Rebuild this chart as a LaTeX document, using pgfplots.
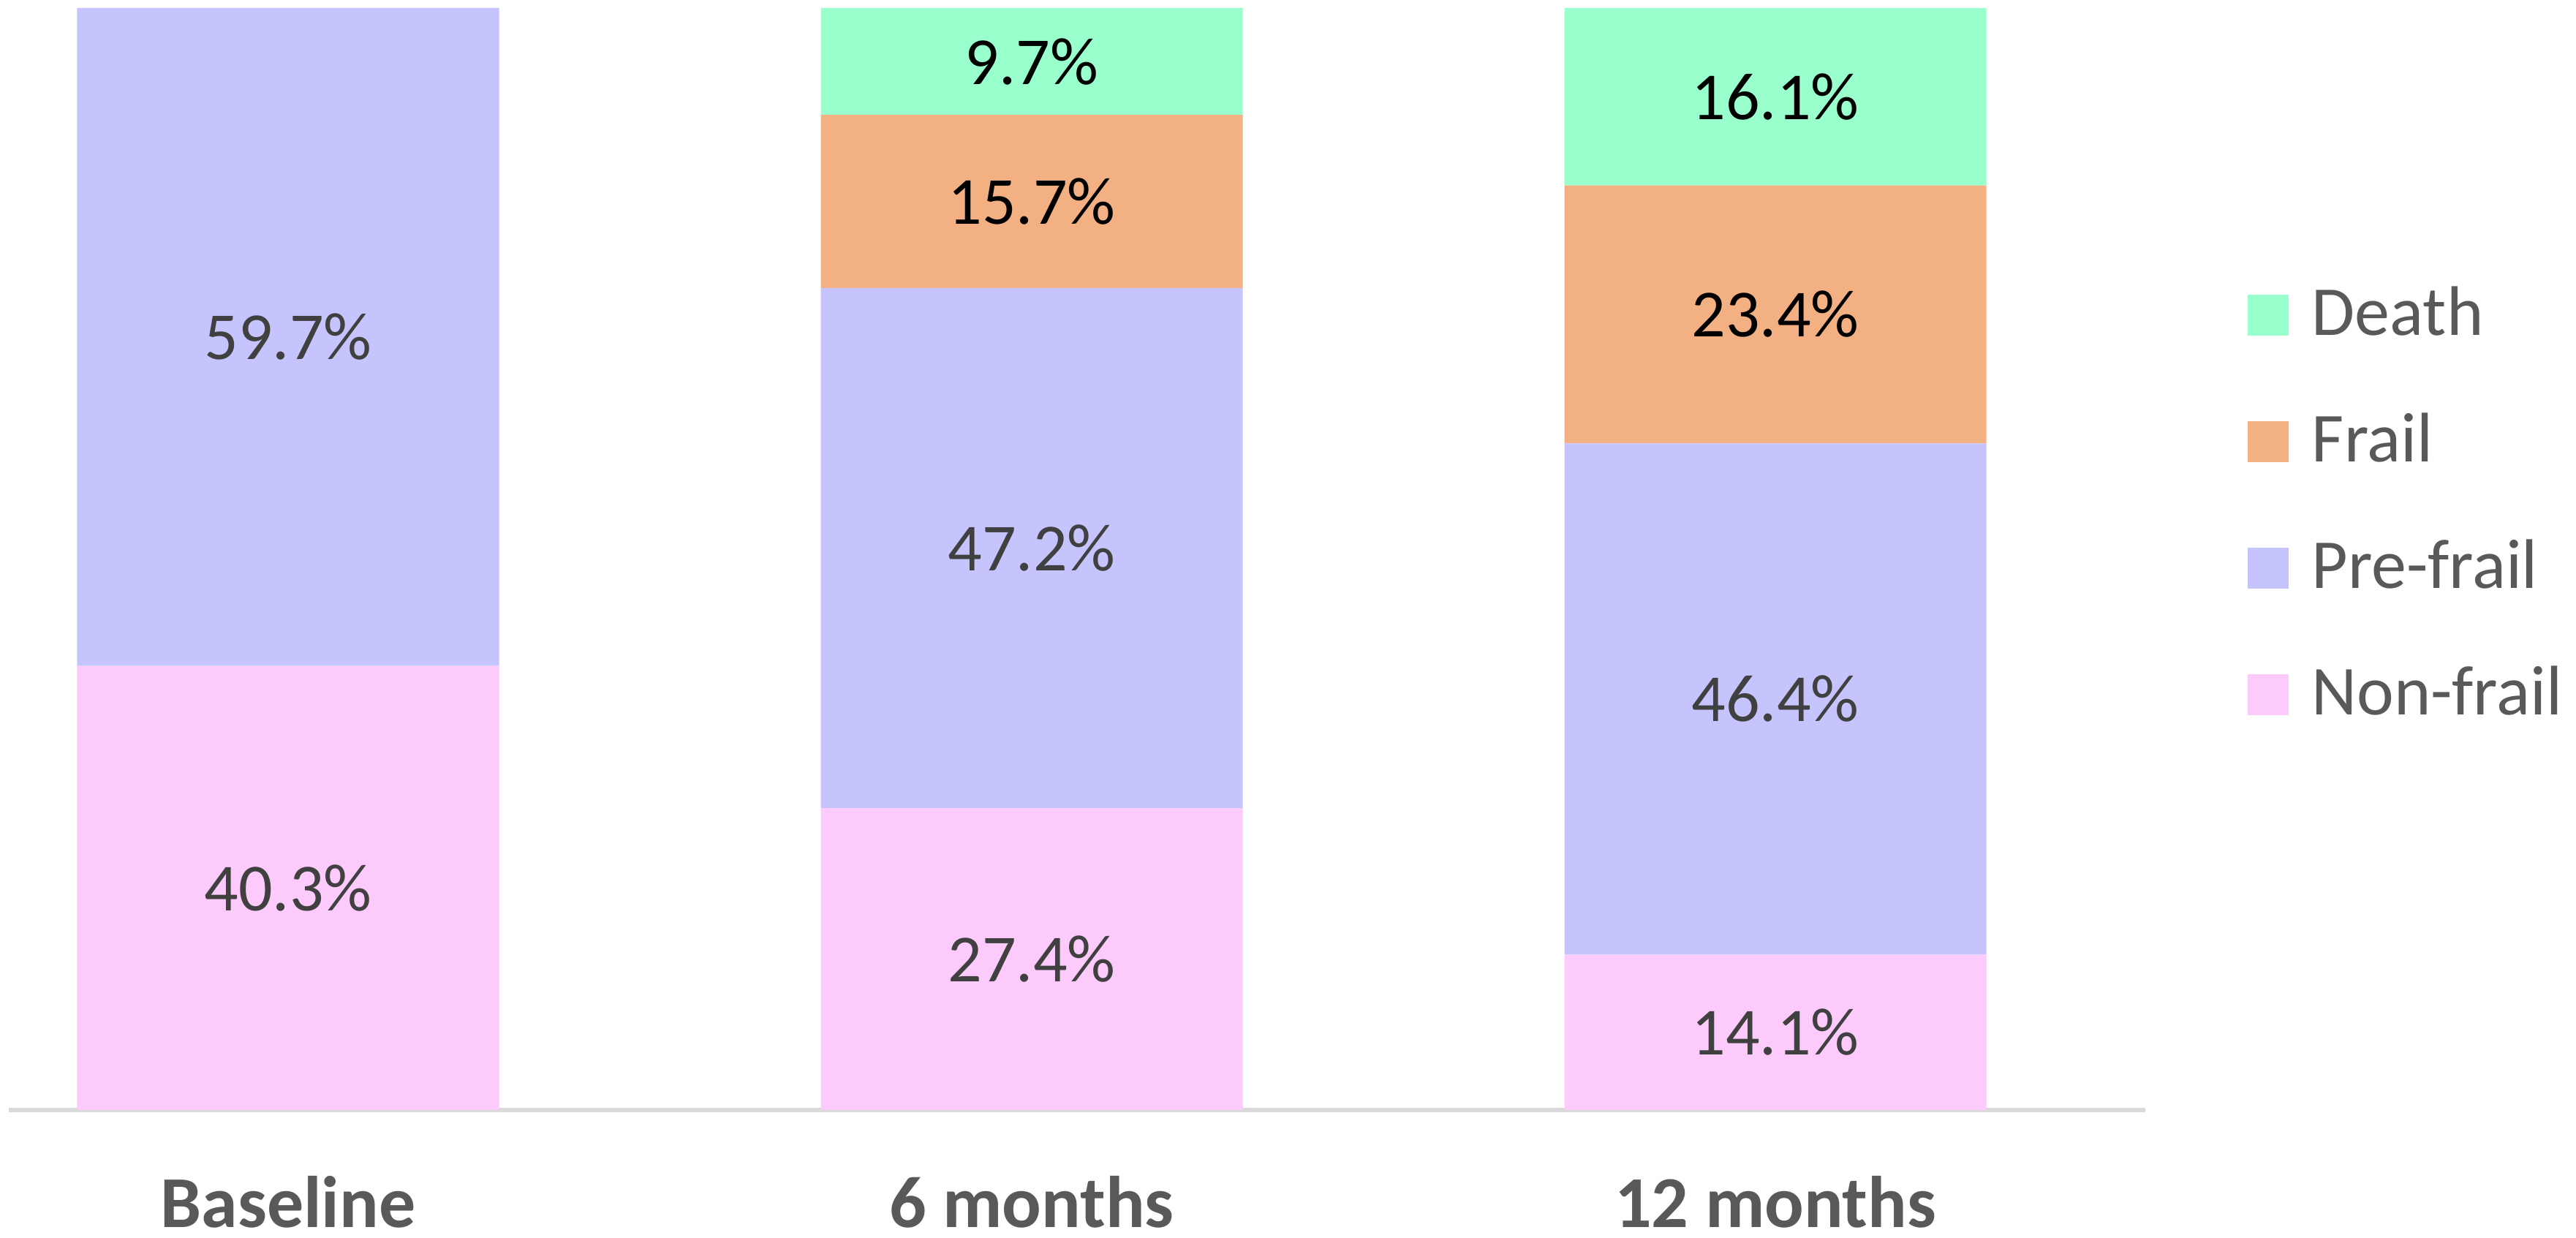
\documentclass[border=0pt]{standalone}
\usepackage{fontspec}
\setmainfont{Carlito}
\usepackage{pgfplots}
\usepackage{pgfplotstable}
\pgfplotsset{compat=1.18}
\definecolor{cNon}{RGB}{252,203,252}
\definecolor{cPre}{RGB}{198,196,252}
\definecolor{cFrail}{RGB}{243,176,131}
\definecolor{cDeath}{RGB}{153,255,204}
\definecolor{axisgray}{RGB}{217,217,217}
\definecolor{txtgray}{RGB}{89,89,89}
\definecolor{lblgray}{RGB}{64,64,64}
\pgfplotstableread{
x nf pf fr de nfl pfl frl del
0 40.3 59.7 0 0 40.3\% 59.7\% {} {}
1 27.4 47.2 15.7 9.7 27.4\% 47.2\% 15.7\% 9.7\%
2 14.1 46.4 23.4 16.1 14.1\% 46.4\% 23.4\% 16.1\%
}\datatable
\begin{document}
\begin{tikzpicture}
\begin{axis}[
  at={(3pt,43.5pt)}, anchor=south west,
  scale only axis,
  width=730.5pt, height=376.75pt,
  xmin=-0.3756, xmax=2.4975,
  ymin=0, ymax=100,
  ybar stacked,
  bar width=144.25pt,
  clip=false,
  hide y axis,
  axis x line*=bottom,
  x axis line style={draw=axisgray, line width=1.5pt, -},
  xtick={0,1,2},
  xticklabels={Baseline,6 months,12 months},
  major tick length=0pt,
  xtick style={draw=none},
  xticklabel style={anchor=base, yshift=-40pt, inner sep=0pt, font=\fontsize{25}{29}\selectfont\bfseries, text=txtgray},
  point meta=explicit symbolic,
  nodes near coords,
  every node near coord/.append style={anchor=center, font=\fontsize{23}{27}\selectfont, inner sep=0pt},
  reverse legend,
  legend cell align=left,
  legend image code/.code={\fill[#1] (0pt,-6.6pt) rectangle (14pt,7.4pt);},
  legend style={at={(1.0476,0.748)}, anchor=north west, draw=none, fill=none,
    inner sep=0pt, row sep=22.85pt, font=\fontsize{24}{28}\selectfont, text=txtgray,
    nodes={inner sep=0pt, text height=16.8pt, text depth=3.6pt},
    /tikz/every odd column/.append style={column sep=8pt}},
]
\addplot[fill=cNon, draw=none,
  every node near coord/.append style={text=lblgray}] table[x=x, y=nf, meta=nfl] {\datatable};
\addlegendentry{Non-frail}
\addplot[fill=cPre, draw=none,
  every node near coord/.append style={text=lblgray}] table[x=x, y=pf, meta=pfl] {\datatable};
\addlegendentry{Pre-frail}
\addplot[fill=cFrail, draw=none,
  every node near coord/.append style={text=black}] table[x=x, y=fr, meta=frl] {\datatable};
\addlegendentry{Frail}
\addplot[fill=cDeath, draw=none,
  every node near coord/.append style={text=black}] table[x=x, y=de, meta=del] {\datatable};
\addlegendentry{Death}
\end{axis}
\pgfresetboundingbox
\path (0pt,0pt) rectangle (880.75pt,423pt);
\end{tikzpicture}
\end{document}
